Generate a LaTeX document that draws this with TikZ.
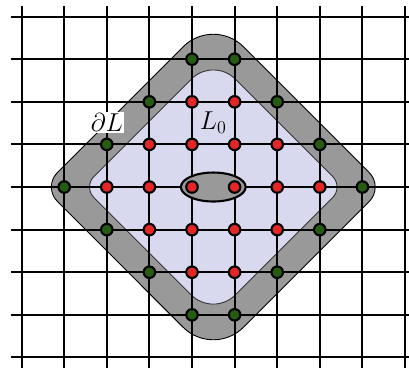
\documentclass[tikz,border=0pt]{standalone}
\usepackage{amsmath,amssymb}
\usetikzlibrary{shapes.geometric}
\definecolor{bandgray}{RGB}{153,153,153}
\definecolor{softlavender}{RGB}{216,216,238}
\definecolor{sitered}{RGB}{228,38,38}
\definecolor{sitegreen}{RGB}{38,92,18}

\begin{document}
\begin{tikzpicture}[every node/.style={font=\LARGE}]
\tikzstyle{site}=[circle, draw=black, line width=1.4pt, inner sep=0pt, minimum size=0.27cm]
\tikzstyle{redsite}=[site, fill=sitered]
\tikzstyle{greensite}=[site, fill=sitegreen]
\tikzstyle{lattice}=[line width=1.4pt]
\useasboundingbox (-4.507,-4.248) rectangle (5.094,4.390);
% boundary layer
\filldraw[fill=bandgray, draw=black, line width=0.6pt] (-3.160,-0.339) arc[start angle=225, end angle=135, radius=0.48] -- (-0.207,3.293) arc[start angle=135, end angle=45, radius=1] -- (4.160,0.339) arc[start angle=45, end angle=-45, radius=0.48] -- (1.207,-3.293) arc[start angle=-45, end angle=-135, radius=1] -- cycle;
% interior
\filldraw[fill=softlavender, draw=black!80, line width=0.6pt] (-2.3025,-0.2475) arc[start angle=225, end angle=135, radius=0.35] -- (-0.016,2.534) arc[start angle=135, end angle=45, radius=0.73] -- (3.3025,0.2475) arc[start angle=45, end angle=-45, radius=0.35] -- (1.016,-2.534) arc[start angle=-45, end angle=-135, radius=0.73] -- cycle;
% lattice lines
\foreach \y in {-4,...,4} \draw[lattice] (-4.25,\y) -- (5.25,\y);
\foreach \x in {-4,...,5} \draw[lattice] (\x,4.25) -- (\x,-4.5);
\node[ellipse, draw=black, fill=bandgray, line width=1.4pt, inner sep=0pt, minimum width=1.52cm, minimum height=0.68cm] (core) at (0.5,0) {};
% sites
\foreach \x in {-3,...,4}{
  \foreach \y in {-3,...,3}{
    \pgfmathsetmacro\dist{abs(\x-0.5)+abs(\y)}
    \ifdim\dist pt<3pt \node[redsite] (s\x\y) at (\x,\y) {};\fi
    \ifdim\dist pt=3.5pt \node[greensite] (s\x\y) at (\x,\y) {};\fi
  }
}
\node[fill=white, inner sep=1pt] (bdry) at (-2,1.52) {$\partial L$};
\node (lzero) at (0.5,1.52) {$L_0$};
\end{tikzpicture}
\end{document}
